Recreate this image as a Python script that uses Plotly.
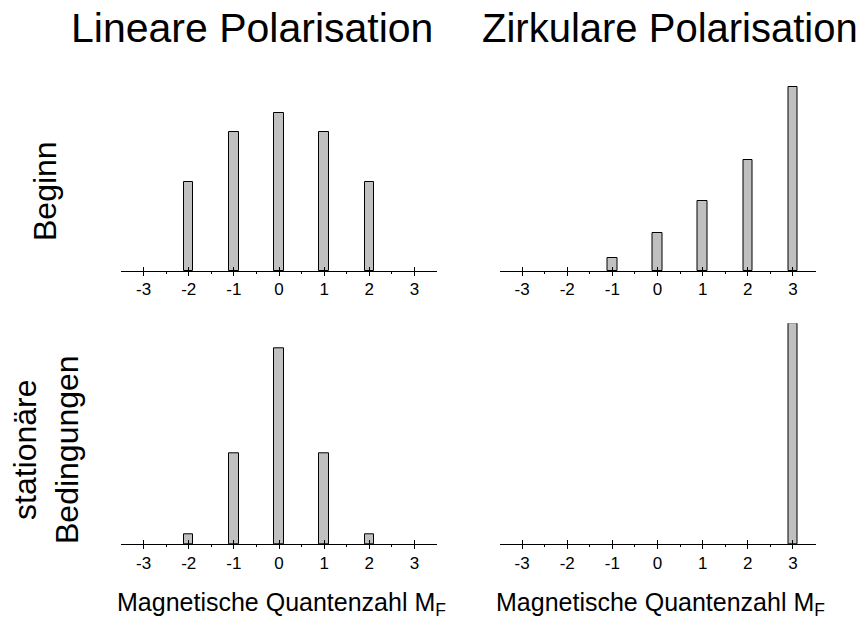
import plotly.graph_objects as go

# Data
mf = [-3, -2, -1, 0, 1, 2, 3]
tick_labels = ["-3", "-2", "-1", "0", "1", "2", "3"]
linear_start = [0.0, 0.401, 0.629, 0.715, 0.629, 0.401, 0.0]
circular_start = [0.0, 0.0, 0.057, 0.172, 0.315, 0.504, 0.831]
linear_steady = [0.0, 0.047, 0.412, 0.887, 0.412, 0.047, 0.0]
circular_steady = [0.0, 0.0, 0.0, 0.0, 0.0, 0.0, 1.0]

col_titles = ["Lineare Polarisation", "Zirkulare Polarisation"]
row_titles = ["Beginn", "stationäre<br>Bedingungen"]
x_title = "Magnetische Quantenzahl M<sub>F</sub>"

W, H = 867, 621
OFF = 8  # page body margin
FW, FH = W - OFF, H - OFF
FONT = "Arial, Liberation Sans, sans-serif"

def px_x(p):
    return (p - OFF) / FW

def px_y(p):
    return 1 - (p - OFF) / FH

x_domains = [[px_x(121), px_x(437)], [px_x(499.5), px_x(815.5)]]
y_domains = [[px_y(271), px_y(50)], [px_y(544.3), px_y(323.3)]]

panels = [
    (linear_start, 0, 0),
    (circular_start, 1, 0),
    (linear_steady, 0, 1),
    (circular_steady, 1, 1),
]

minor_vals = [-2.5, -1.5, -0.5, 0.5, 1.5, 2.5]

fig = go.Figure()
layout = {}
n = len(panels)
for i, (vals, c, r) in enumerate(panels, start=1):
    xa = "x" if i == 1 else f"x{i}"
    ya = "y" if i == 1 else f"y{i}"
    fig.add_trace(go.Bar(
        x=mf, y=vals, width=0.21,
        marker=dict(color="#c0c0c0",
                    line=dict(color="#000000",
                              width=[1 if v > 0 else 0 for v in vals])),
        xaxis=xa, yaxis=ya, showlegend=False, hoverinfo="skip",
    ))
    layout[f"xaxis{i}"] = dict(
        domain=x_domains[c], anchor=ya, range=[-3.5, 3.5],
        tickmode="array", tickvals=mf, ticktext=tick_labels,
        ticks="", ticklabelstandoff=3,
        showline=True, linecolor="#000000", linewidth=1,
        showgrid=False, zeroline=False,
        tickfont=dict(family=FONT, size=17, color="#000000"),
        fixedrange=True,
    )
    layout[f"yaxis{i}"] = dict(
        domain=y_domains[r], anchor=xa, range=[0, 1],
        visible=False, fixedrange=True,
    )
    # overlay axes so the ticks cross the axis line
    for k, direction in enumerate(["inside", "outside"]):
        j = i + n * (k + 1)
        xo = f"x{j}"
        ax = dict(
            overlaying=xa, anchor=ya, range=[-3.5, 3.5], side="bottom",
            tickmode="array", tickvals=mf, ticks=direction, ticklen=4,
            tickwidth=1, tickcolor="#000000", showticklabels=False,
            showline=False, showgrid=False, zeroline=False, fixedrange=True,
        )
        if direction == "outside":
            ax["minor"] = dict(tickvals=minor_vals, ticks="outside", ticklen=2,
                               tickcolor="#000000", showgrid=False)
        layout[f"xaxis{j}"] = ax
        fig.add_trace(go.Scatter(x=[None], y=[None], xaxis=xo, yaxis=ya,
                                 showlegend=False, hoverinfo="skip"))

annotations = []
annotations.append(dict(text=col_titles[0], x=px_x(252), y=px_y(28),
                        font=dict(family=FONT, size=41, color="#000000")))
annotations.append(dict(text=col_titles[1], x=px_x(670), y=px_y(28),
                        font=dict(family=FONT, size=40, color="#000000")))
annotations.append(dict(text=row_titles[0], x=px_x(45), y=px_y(191), textangle=-90,
                        font=dict(family=FONT, size=32, color="#000000")))
annotations.append(dict(text=row_titles[1], x=px_x(46), y=px_y(450), textangle=-90,
                        font=dict(family=FONT, size=32, color="#000000")))
annotations.append(dict(text=x_title, x=px_x(281.7), y=px_y(604),
                        font=dict(family=FONT, size=25, color="#000000")))
annotations.append(dict(text=x_title, x=px_x(660), y=px_y(604),
                        font=dict(family=FONT, size=25, color="#000000")))
for a in annotations:
    a.update(xref="paper", yref="paper", showarrow=False,
             xanchor="center", yanchor="middle", borderpad=0)

fig.update_layout(
    width=FW, height=FH,
    margin=dict(l=0, r=0, t=0, b=0),
    paper_bgcolor="#ffffff", plot_bgcolor="#ffffff",
    bargap=0,
    annotations=annotations,
    **layout,
)

fig.write_html("out.html")
